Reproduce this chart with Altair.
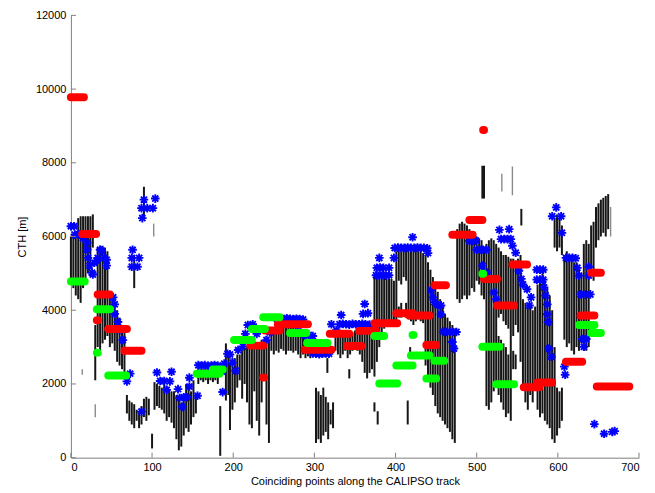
import altair as alt
import pandas as pd

# ---------------- data ----------------
# black vertical cloud bars: x, bottom, top
bar_x = [0, 3, 6, 9, 12, 15, 18, 21, 24, 27, 30, 33, 36, 39, 42, 45, 48, 51, 54, 57, 60, 63, 66,
         69, 72, 75, 78, 78, 81, 84, 87, 90, 90, 93, 96, 100,
         103, 106, 109, 112, 115, 118, 121, 124, 127, 130, 133, 136, 139, 142, 145, 148, 151, 154,
         157, 160, 163, 166, 169, 172, 175, 178, 181, 184, 191, 194,
         196, 199, 202, 205, 208, 211, 214, 217, 220, 223, 226, 229, 232, 235, 238, 241, 244,
         247, 250, 253, 256, 259, 262, 265, 268, 271, 274, 277, 280, 283, 286, 289, 292, 295, 298, 301,
         302, 305, 308, 311, 314, 317, 320, 323, 316,
         326, 329, 332, 335, 338, 341, 343, 344, 347, 350, 353, 356, 359, 362, 365, 368, 371,
         374, 374, 377, 378, 380, 383, 386, 389, 392, 395, 398, 401,
         404, 404, 407, 407, 410, 410, 413, 413, 415, 416, 418,
         419, 422, 425, 428, 431, 434, 437, 440, 443, 446, 449, 452, 455, 458, 461, 464, 467, 470, 473,
         476, 479, 482, 485, 488, 491, 494, 497, 500, 503, 506, 507, 509, 509,
         512, 515, 518, 521, 524, 527, 527, 530, 530, 533, 533, 536, 536, 539, 539, 542,
         545, 545, 548, 548, 551, 554, 555,
         557, 560, 563, 566, 569, 572, 575, 578, 581, 584, 587, 590, 593, 596, 599, 602, 605,
         596, 599, 602, 605,
         608, 611, 614, 617, 620, 623, 626, 629, 632, 635, 638, 641, 644, 647, 650, 653, 656, 659, 662]
bar_lo = [4700, 4600, 4400, 4300, 4200, 4600, 4800, 5000, 5300, 5700, 2100, 3000, 2900, 3100, 3200, 3300, 3000, 3100, 2900, 2600, 2500, 2400, 2300,
          1200, 1000, 900, 800, 4600, 1000, 800, 900, 1100, 6500, 1000, 1150, 250,
          1300, 1400, 1350, 1300, 1200, 1000, 1100, 950, 800, 500, 200, 300, 600, 800, 700, 900, 1100, 1200,
          2000, 2100, 2050, 2100, 2000, 2100, 2050, 2100, 2000, 50, 1550, 1700,
          750, 1300, 1500, 1900, 2100, 1600, 2000, 1500, 900, 800, 1800, 1000, 600, 1500, 2200, 900, 400,
          2900, 2800, 2900, 2850, 2950, 2900, 2800, 2900, 2900, 2850, 2900, 2800, 2700, 2800, 2700, 2750, 2700, 2750, 2800,
          400, 500, 400, 600, 700, 500, 900, 800, 2300,
          2900, 2800, 2700, 2800, 2900, 2700, 2150, 2800, 2900, 2950, 2900, 2800, 2600, 2300, 2150, 2300, 2400,
          2200, 1250, 2600, 900, 3000, 3300, 3500, 3600, 3700, 3650, 3700, 3700,
          3800, 4800, 3800, 4700, 3850, 4900, 3800, 4800, 900, 3750, 2820,
          3700, 3600, 3700, 3750, 3700, 3650, 2500, 2200, 1900, 1700, 1400, 1200, 1100, 1000, 900, 800, 700, 500, 400,
          4300, 4200, 4300, 4400, 4300, 4400, 4600, 4500, 4800, 4700, 4400, 7030, 4300, 7030,
          1400, 1300, 1500, 1800, 2000, 3800, 1700, 3900, 1500, 3700, 1300, 3600, 1100, 3500, 1200, 1000,
          3300, 2400, 3600, 2400, 3400, 2600, 6300,
          1900, 1500, 1300, 1700, 1500, 2000, 1300, 1100, 1200, 1000, 900, 800, 500, 400, 600, 800, 1000,
          5700, 5600, 5700, 5500,
          3200, 3000, 3100, 2900, 2800, 3000, 2900, 3100, 2900, 2900, 3000, 5000, 4800, 5700, 5900, 6000, 6100, 6000, 6200]
bar_hi = [6000, 6050, 6100, 6500, 6550, 6550, 6550, 6550, 6550, 6600, 3600, 5700, 5750, 5750, 5700, 5600, 4500, 4300, 4200, 4000, 3800, 3600, 3400,
          1700, 1550, 1500, 1450, 5500, 1300, 1250, 1400, 1600, 7350, 1650, 1600, 650,
          2050, 2000, 1950, 1900, 2000, 1950, 1850, 1800, 1800, 1700, 1600, 1500, 1700, 2000, 1900, 1800, 2100, 1700,
          2450, 2400, 2400, 2400, 2400, 2400, 2400, 2350, 2350, 1400, 3100, 2800,
          2600, 2700, 2700, 2800, 2800, 2900, 2950, 3000, 3050, 3000, 3100, 3000, 3100, 3200, 3200, 3300, 3200,
          3400, 3450, 3500, 3550, 3600, 3600, 3650, 3650, 3600, 3550, 3500, 3450, 3400, 3300, 3250, 3200, 3100, 3050, 3000,
          1900, 1800, 1700, 1900, 1650, 1500, 1300, 1500, 2700,
          3300, 3350, 3350, 3400, 3450, 3400, 2400, 3350, 3400, 3450, 3500, 3450, 3500, 3500, 3450, 3400, 3350,
          4900, 1500, 4900, 1260, 4850, 4850, 4900, 4850, 4900, 4850, 4800, 5600,
          4100, 5650, 4200, 5650, 4000, 5700, 4200, 5700, 1550, 5700, 3000,
          5650, 5650, 5650, 5600, 5600, 5550, 5500, 5300, 5100, 4900, 4700, 4500, 4300, 4100, 3900, 3800, 3700, 3600, 3500,
          6200, 6350, 6400, 6350, 6300, 6200, 6100, 6050, 6000, 5950, 5900, 7920, 5700, 7920,
          5800, 5900, 5950, 5900, 5800, 5700, 3300, 5600, 3200, 5500, 3100, 5500, 3000, 5450, 2800, 5400,
          5400, 2900, 5350, 2800, 5400, 5500, 6750,
          4300, 4200, 4100, 4200, 4000, 4100, 4700, 4900, 5000, 4800, 4600, 4400, 4000, 3000, 1900, 1800, 1900,
          6500, 6600, 6500, 6300,
          5500, 5600, 5500, 5400, 5300, 5300, 5100, 5000, 5800, 5900, 5800, 6300, 6400, 6800, 6900, 7000, 7050, 7100, 7150]

# lighter grey bar fragments
gray_x = [14, 30, 102, 531, 544, 665]
gray_lo = [2250, 1100, 6000, 7220, 7120, 6000]
gray_hi = [2400, 1450, 6350, 7700, 7900, 6800]

# blue asterisks
blue_x = [0, 4, 5, 10, 15, 20, 20, 21, 23, 26, 27, 29, 32, 33, 36, 38, 41, 44, 44, 52, 54, 54, 58, 60, 64, 69, 73,
          76, 75, 84, 75, 82, 88, 87, 94, 101, 90, 104, 87,
          106, 110, 115, 118, 122, 124, 132, 134, 139, 143, 137, 146, 146, 156,
          157, 161, 165, 169, 173, 177, 181, 186,
          187, 189, 193, 196, 199, 203, 206, 212, 215, 218, 224, 229, 241, 245,
          254, 258, 262, 266, 270, 274, 278, 282, 286, 280, 288, 293, 298,
          298, 302, 306, 310, 314, 318, 321, 327, 333, 331,
          335, 339, 343, 347, 351, 355, 359, 363, 368, 362, 360, 366,
          377, 381, 385, 392, 376, 380, 384, 388, 392, 380, 398,
          399, 403, 407, 411, 415, 419, 423, 427, 431, 435, 439, 421, 440,
          444, 446, 448, 452, 456, 456, 459, 463, 467, 471, 475, 470, 472,
          491, 495, 499, 500, 504, 508, 512, 507, 513, 521, 524,
          528, 530, 534, 538, 542, 540, 544, 548, 552, 555, 557, 562, 567, 565,
          574, 578, 582, 574, 578, 582, 583, 585, 587, 587, 588, 589, 592,
          593, 598, 604, 605, 608, 609, 610, 614, 618, 622, 624, 626, 628,
          638, 638, 634, 640, 630, 635, 632, 645, 657, 667, 670]
blue_y = [6280, 6280, 6050, 6060, 5960, 5830, 5640, 5420, 5210, 5020, 4970, 5290, 5340, 5420, 5640, 5610, 5420, 5370, 5210, 4350, 4160, 3900, 3680, 3460, 3190, 2070, 2280,
          5640, 5420, 5420, 5180, 5180, 6500, 6770, 6770, 6770, 7000, 7030, 1250,
          2310, 2080, 2080, 1840, 2070, 2330, 1860, 1620, 1640, 1640, 1380, 1930, 2170, 1680,
          2510, 2500, 2510, 2490, 2500, 2510, 2500, 2340,
          1780, 2550, 2820, 2800, 2580, 2360, 2920, 3020, 3360, 3600, 3620, 3360, 3190, 3400,
          3760, 3770, 3760, 3780, 3770, 3760, 3770, 3760, 3750, 3440, 3320, 3330, 3300,
          2830, 2820, 2810, 2820, 2830, 2820, 3620, 3460, 3870, 3620,
          3630, 3620, 3610, 3630, 3620, 3620, 3630, 3620, 3610, 4170, 3900, 3920,
          5150, 5160, 5150, 5150, 4950, 4940, 4950, 4940, 4950, 5420, 5420,
          5690, 5700, 5690, 5690, 5700, 5690, 5690, 5700, 5690, 5690, 5680, 5980, 5550,
          4540, 4350, 4220, 4130, 4130, 3890, 3420, 3410, 3420, 3410, 3410, 3140, 2960,
          5880, 5880, 5890, 5640, 5640, 5640, 5640, 5210, 5020, 4480, 4300,
          6180, 5930, 5930, 5930, 5930, 6200, 5750, 5560, 5070, 4850, 4700, 4570, 4350, 4130,
          5100, 5100, 5100, 4830, 4830, 4830, 4620, 4400, 4160, 3890, 3680, 2960, 2740,
          6550, 6790, 6550, 6100, 2470, 2250, 5420, 5420, 5420, 5410, 5150, 4940, 4430,
          5180, 4940, 4430, 4430, 3220, 3220, 3010, 910, 650, 700, 720]

# red series (constant runs): start x, end x, height
red_x0 = [0, 14, 33, 32, 46, 66, 221, 237, 239, 255, 288, 319, 340, 355, 374, 401, 417, 448, 438, 470, 491, 508, 509, 525, 544, 558, 575, 610, 628, 641, 648]
red_x1 = [16, 31, 48, 33, 69, 87, 237, 238, 257, 292, 321, 343, 358, 376, 402, 421, 442, 462, 450, 495, 507, 509, 525, 546, 562, 577, 593, 630, 645, 653, 688]
red_y = [9780, 6070, 4430, 3730, 3490, 2900, 3040, 2175, 3450, 3620, 2930, 3360, 3030, 3440, 3650, 3920, 3860, 4680, 3060, 6050, 6450, 8890, 4850, 4130, 5240, 1910, 2040, 2600, 3860, 5020, 1930]

# green series (constant runs): start x, end x, height
green_x0 = [0, 32, 32, 46, 155, 175, 201, 223, 237, 270, 291, 374, 421, 380, 401, 419, 438, 448, 507, 507, 524, 626, 641]
green_x1 = [17, 48, 33, 68, 183, 187, 223, 239, 257, 290, 316, 386, 422, 402, 421, 442, 450, 460, 508, 528, 546, 645, 653]
green_y = [4780, 4030, 2850, 2230, 2280, 2390, 3190, 3490, 3810, 3380, 3110, 3300, 3330, 2010, 2500, 2770, 2150, 2630, 4990, 3010, 1990, 3600, 3380]

x_ticks = [0, 100, 200, 300, 400, 500, 600, 700]
y_ticks = [0, 2000, 4000, 6000, 8000, 10000, 12000]

# ---------------- chart ----------------
bars = pd.DataFrame({"x": bar_x, "lo": bar_lo, "hi": bar_hi})
grays = pd.DataFrame({"x": gray_x, "lo": gray_lo, "hi": gray_hi})
blue = pd.DataFrame({"x": blue_x, "y": blue_y})
red = pd.DataFrame({"x": red_x0, "x1": red_x1, "y": red_y})
green = pd.DataFrame({"x": green_x0, "x1": green_x1, "y": green_y})
xt = pd.DataFrame({"x": x_ticks})
yt = pd.DataFrame({"y": y_ticks})

xscale = alt.Scale(domain=[0, 700], nice=False, zero=False)
yscale = alt.Scale(domain=[0, 12000], nice=False)
xaxis = alt.Axis(values=x_ticks, title="Coinciding points along the CALIPSO track", format="d")
yaxis = alt.Axis(values=y_ticks, title="CTH [m]", format="d")

W, H = 569, 443

black = alt.Chart(bars).mark_rule(color="#161616", strokeWidth=2.0).encode(
    x=alt.X("x:Q", scale=xscale, axis=xaxis),
    y=alt.Y("lo:Q", scale=yscale, axis=yaxis),
    y2="hi:Q",
)
gray = alt.Chart(grays).mark_rule(color="#8a8a8a", strokeWidth=1.4).encode(
    x=alt.X("x:Q", scale=xscale, axis=xaxis),
    y=alt.Y("lo:Q", scale=yscale, axis=yaxis),
    y2="hi:Q",
)

ASTER = "M-1,0L1,0M0,-1L0,1M-0.71,-0.71L0.71,0.71M-0.71,0.71L0.71,-0.71"
bl = alt.Chart(blue).mark_point(shape=ASTER, size=75, strokeWidth=1.9, color="#0000ff",
                                filled=False, opacity=1).encode(
    x=alt.X("x:Q", scale=xscale, axis=xaxis),
    y=alt.Y("y:Q", scale=yscale, axis=yaxis),
)
rd = alt.Chart(red).mark_rule(color="#ff0000", strokeWidth=8, strokeCap="round").encode(
    x=alt.X("x:Q", scale=xscale, axis=xaxis),
    x2="x1:Q",
    y=alt.Y("y:Q", scale=yscale, axis=yaxis),
)
gr = alt.Chart(green).mark_rule(color="#00ff00", strokeWidth=8, strokeCap="round").encode(
    x=alt.X("x:Q", scale=xscale, axis=xaxis),
    x2="x1:Q",
    y=alt.Y("y:Q", scale=yscale, axis=yaxis),
)
xtick = alt.Chart(xt).mark_rule(color="#808080", strokeWidth=1).encode(
    x=alt.X("x:Q", scale=xscale, axis=xaxis),
    y=alt.value(H), y2=alt.value(H - 5),
)
ytick = alt.Chart(yt).mark_rule(color="#808080", strokeWidth=1).encode(
    y=alt.Y("y:Q", scale=yscale, axis=yaxis),
    x=alt.value(0), x2=alt.value(5),
)

chart = alt.layer(black, gray, bl, rd, gr, xtick, ytick).properties(
    width=W, height=H,
    autosize=alt.AutoSizeParams(type="none"),
    padding={"left": 63, "top": 7, "right": 8, "bottom": 32},
    background="white",
).configure_view(stroke=None).configure_axis(
    grid=False, ticks=False, domainColor="#808080", domainWidth=1,
    labelFont="Liberation Sans", labelFontSize=11, labelColor="#000000",
    titleFont="Liberation Sans", titleFontSize=11, titleFontWeight="normal", titleColor="#000000",
).configure_axisX(labelPadding=4, titlePadding=3).configure_axisY(labelPadding=5, titlePadding=8)

chart.save("out.html", embed_options={"renderer": "svg", "actions": False})
